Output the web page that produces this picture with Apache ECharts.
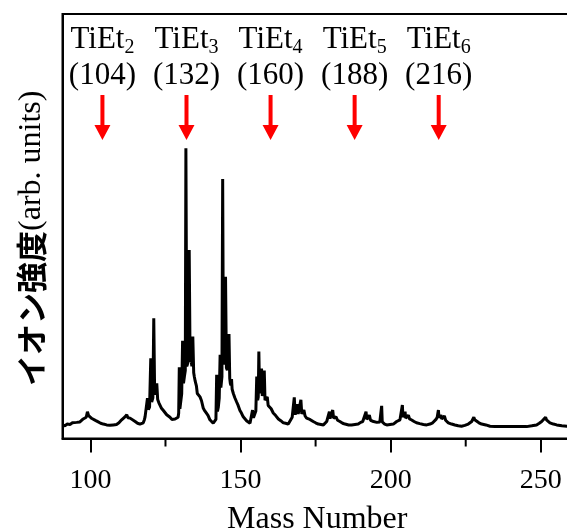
<!DOCTYPE html>
<html>
<head>
<meta charset="utf-8">
<script src="https://cdn.jsdelivr.net/npm/echarts@6/dist/echarts.min.js"></script>
<style>
  html, body { margin: 0; padding: 0; background: #ffffff; }
  #chart { width: 567px; height: 530px; }
</style>
</head>
<body>
<div id="chart"></div>
<script>
// Mass spectrum trace: mass number (x) and ion intensity in arbitrary units (y)
const massNumber = [
  90.7, 91.5, 92.3, 93.2, 94.0, 94.6, 95.4, 96.0, 96.5, 97.1, 97.6, 98.2, 98.6, 99.0, 99.4, 99.9,
  100.5, 101.0, 101.8, 102.6, 103.4, 104.3, 105.4, 106.5, 107.6, 108.7, 109.5, 110.1, 110.4, 110.9,
  111.5, 111.8, 112.1, 112.5, 113.2, 113.8, 114.9, 115.7, 116.5, 117.1, 117.6,
  118.0, 118.2, 118.6, 119.0, 119.3, 119.7, 120.1, 120.4, 120.8, 121.1, 121.4, 121.8, 122.1, 122.4,
  122.8, 123.2, 123.6, 124.3, 124.9, 125.4, 126.0, 126.5, 127.1, 127.6, 128.2, 128.7, 129.2,
  129.4, 129.6, 129.8, 130.1, 130.4, 130.7, 131.0, 131.3, 131.6, 131.8, 132.1, 132.4, 132.7, 132.9,
  133.2, 133.5, 133.8, 134.1, 134.4, 134.6, 134.9, 135.1, 135.3, 135.6, 136.0, 136.5, 137.0, 137.6,
  138.1, 138.7, 139.2, 139.8, 140.3, 140.9, 141.5, 141.8,
  142.05, 142.3, 142.6, 142.9, 143.2, 143.45, 143.8, 144.05, 144.3, 144.6, 144.8, 145.0, 145.3, 145.6,
  145.9, 146.15, 146.4, 146.6, 146.8, 147.0, 147.2, 147.6, 148.1, 148.7, 149.2, 149.8, 150.3, 150.9,
  151.5, 152.0, 152.6, 153.15, 153.6,
  154.0, 154.3, 154.7, 155.1, 155.4, 155.7, 155.9, 156.1, 156.35, 156.6, 156.8, 157.0, 157.25, 157.5,
  157.7, 157.9, 158.15, 158.4, 158.6, 158.9, 159.2, 159.6, 160.2, 160.9, 161.7, 162.6, 163.4, 164.25,
  165.0, 165.9,
  166.5, 167.2, 167.5, 167.9, 168.2, 168.35, 168.9, 169.2, 169.5, 169.8, 170.1, 170.4, 170.6, 171.1,
  171.5, 172.0, 172.6, 173.1, 173.7, 174.2, 175.0, 175.9, 176.8, 177.6, 178.2, 178.7,
  179.1, 179.6, 179.8, 180.0, 180.3, 180.7, 181.0, 181.2, 181.8, 182.3, 183.1, 184.0, 184.8, 186.0,
  187.0, 188.1, 189.2, 190.0, 190.7,
  191.3, 191.8, 192.05, 192.2, 192.6, 192.9, 193.3, 193.7, 194.3, 194.8, 195.4, 195.9, 196.4, 196.8,
  197.0, 197.2, 197.4, 198.0, 198.7, 199.8, 200.9, 201.5, 202.0,
  202.6, 203.1, 203.6, 203.9, 204.1, 204.3, 204.8, 205.0, 205.3, 205.9, 206.3, 207.0, 207.8, 208.6,
  209.7, 210.9, 212.0, 213.1, 214.0, 214.4,
  215.1, 215.5, 215.9, 216.1, 216.3, 216.75, 217.0, 217.3, 217.9, 218.3, 219.2, 220.3, 221.4, 222.5,
  223.6, 224.7, 225.85, 226.5, 227.0, 227.4, 227.7, 228.0, 228.6, 229.4, 230.3, 231.7, 233.1, 234.7,
  236.4, 238.6, 240.8, 243.0, 245.3, 247.0, 248.6, 249.5, 250.3, 250.9, 251.6, 251.9, 252.4, 253.05,
  254.2, 255.3, 257.0, 258.7, 260.4
];
const intensity = [
  3.2, 3.0, 3.4, 3.3, 3.7, 3.5, 3.8, 4.2, 3.9, 4.1, 4.6, 4.5, 5.0, 6.3, 5.4, 5.1,
  4.7, 4.5, 4.2, 3.9, 3.6, 3.4, 3.2, 3.1, 3.2, 3.3, 3.7, 4.0, 4.4, 4.3,
  5.1, 4.7, 5.6, 4.9, 4.8, 4.4, 4.0, 3.6, 3.4, 3.6, 3.7,
  4.5, 5.1, 5.4, 9.5, 6.8, 7.4, 18.9, 8.6, 9.6, 28.3, 10.3, 10.0, 13.0, 9.2,
  8.4, 8.2, 7.2, 6.6, 6.2, 5.6, 5.3, 5.0, 4.5, 4.4, 4.6, 4.4, 5.0,
  6.0, 16.8, 7.0, 7.4, 10.5, 23.0, 13.0, 14.6, 16.0, 68.4, 17.0, 17.7, 19.5, 44.4,
  18.0, 18.5, 17.0, 24.0, 15.5, 14.6, 13.5, 13.6, 12.4, 10.6, 10.2, 9.8, 8.9, 7.1,
  6.5, 5.9, 5.4, 4.4, 4.2, 3.6, 3.7, 4.5,
  15.0, 6.4, 7.4, 9.5, 19.7, 12.0, 14.5, 61.1, 17.5, 17.7, 18.5, 38.1, 16.6, 16.1,
  16.5, 24.6, 14.2, 13.0, 12.5, 14.0, 11.6, 10.6, 9.6, 8.6, 7.8, 6.6, 6.0, 5.1,
  4.8, 4.2, 4.0, 3.6, 3.9,
  6.7, 4.9, 5.2, 6.5, 14.6, 9.0, 9.8, 20.5, 10.6, 10.6, 11.0, 16.5, 10.0, 9.8,
  10.0, 16.0, 9.0, 9.0, 8.6, 9.8, 7.8, 7.9, 7.0, 6.0, 5.4, 4.6, 4.2, 3.7,
  3.6, 3.4,
  3.6, 5.0, 5.4, 9.7, 5.6, 5.9, 8.1, 5.8, 5.5, 5.9, 9.1, 5.8, 5.7, 6.7,
  5.3, 4.8, 4.6, 4.5, 4.2, 4.0, 3.7, 3.4, 3.3, 3.2, 3.6, 4.0,
  4.4, 6.3, 4.7, 4.4, 4.6, 6.7, 4.8, 4.75, 5.1, 4.3, 4.0, 3.6, 3.4, 3.2,
  3.2, 3.3, 3.4, 3.8, 4.0,
  4.4, 6.3, 4.5, 4.4, 4.4, 5.5, 4.3, 4.2, 4.0, 3.97, 3.8, 3.7, 3.9, 4.0,
  7.7, 3.9, 3.7, 3.4, 3.2, 3.3, 3.4, 3.7, 4.0,
  4.3, 4.4, 4.8, 7.9, 5.0, 4.75, 6.3, 4.8, 4.9, 5.5, 4.6, 4.36, 4.0, 3.7,
  3.5, 3.3, 3.2, 3.4, 3.7, 3.97,
  4.5, 5.0, 6.7, 4.9, 4.75, 5.5, 4.6, 4.5, 5.3, 4.3, 3.7, 3.4, 3.18, 3.0,
  2.9, 3.1, 3.4, 3.7, 4.0, 4.3, 5.0, 4.4, 4.0, 3.7, 3.4, 3.2, 2.9, 2.8,
  2.8, 2.8, 2.8, 2.8, 2.8, 3.0, 3.2, 3.6, 4.0, 4.3, 5.0, 4.4, 4.1, 3.7,
  3.4, 3.2, 3.0, 2.9, 2.9
];

// Axis ticks
const majorTicks = [100, 150, 200, 250];
const minorTicks = [125, 175, 225];

// Marked fragment ions and their nominal masses
const fragmentBase = ['TiEt', 'TiEt', 'TiEt', 'TiEt', 'TiEt'];
const fragmentIndex = ['2', '3', '4', '5', '6'];
const fragmentMass = [104, 132, 160, 188, 216];

const SERIF = '"Liberation Serif", "Times New Roman", Times, serif';
const CJK = '"Noto Sans CJK JP", "Noto Sans CJK SC", sans-serif';

const chart = echarts.init(document.getElementById('chart'), null, { renderer: 'canvas' });

const option = {
  animation: false,
  backgroundColor: '#ffffff',
  grid: {
    left: 62.5, top: 14, right: -5, bottom: 91.5,
    containLabel: false,
    outerBoundsMode: 'none',
    show: true, borderColor: '#000000', borderWidth: 2, backgroundColor: 'transparent'
  },
  xAxis: {
    type: 'value',
    min: 90.7,
    max: 260.4,
    name: 'Mass Number',
    nameLocation: 'middle',
    nameGap: 65,
    nameTextStyle: { fontFamily: SERIF, fontSize: 32, color: '#000000' },
    axisLine: { show: true, onZero: false, lineStyle: { color: '#000000', width: 2 } },
    axisTick: {
      show: true, inside: false, length: 14, customValues: majorTicks,
      lineStyle: { color: '#000000', width: 2 }
    },
    axisLabel: {
      customValues: majorTicks, fontFamily: SERIF, fontSize: 28, color: '#000000', margin: 28
    },
    splitLine: { show: false }
  },
  yAxis: {
    type: 'value',
    min: 0,
    max: 100,
    name: '{j|イオン強度}{r|(arb. units)}',
    nameLocation: 'middle',
    nameRotate: 90,
    nameGap: 15,
    nameTextStyle: {
      padding: [0, 24, 0, 0],
      rich: {
        j: { fontFamily: CJK, fontSize: 31, fontWeight: 'bold', color: '#000000' },
        r: { fontFamily: SERIF, fontSize: 32, color: '#000000' }
      }
    },
    axisLine: { show: true, onZero: false, lineStyle: { color: '#000000', width: 2 } },
    axisTick: { show: false },
    axisLabel: { show: false },
    splitLine: { show: false }
  },
  series: [
    {
      type: 'line',
      data: massNumber.map((m, i) => [m, intensity[i]]),
      showSymbol: false,
      symbol: 'none',
      silent: true,
      lineStyle: { color: '#000000', width: 3, join: 'bevel' }
    },
    {
      // short minor ticks below the mass axis
      type: 'custom',
      clip: false,
      silent: true,
      data: minorTicks.map(v => [v]),
      renderItem: (params, api) => {
        const p = api.coord([api.value(0), 0]);
        return {
          type: 'line',
          shape: { x1: p[0], y1: p[1], x2: p[0], y2: p[1] + 8 },
          style: { stroke: '#000000', lineWidth: 2 }
        };
      }
    },
    {
      // fragment labels with downward red arrows
      type: 'custom',
      clip: false,
      silent: true,
      data: fragmentMass.map(v => [v]),
      renderItem: (params, api) => {
        const i = params.dataIndex;
        const x = api.coord([api.value(0), 0])[0];
        return {
          type: 'group',
          children: [
            {
              type: 'text',
              style: {
                x: x, y: 40,
                text: '{m|' + fragmentBase[i] + '}{s|' + fragmentIndex[i] + '}',
                align: 'center', verticalAlign: 'middle',
                rich: {
                  m: { fontFamily: SERIF, fontSize: 31, lineHeight: 36, fill: '#000000' },
                  s: { fontFamily: SERIF, fontSize: 20, lineHeight: 14, verticalAlign: 'bottom', fill: '#000000' }
                }
              }
            },
            {
              type: 'text',
              style: {
                x: x, y: 76,
                text: '(' + fragmentMass[i] + ')',
                align: 'center', verticalAlign: 'middle',
                font: '31px ' + SERIF, fill: '#000000'
              }
            },
            {
              type: 'polygon',
              shape: {
                points: [[x - 2, 95], [x + 2, 95], [x + 2, 125], [x + 8, 125], [x, 140], [x - 8, 125], [x - 2, 125]]
              },
              style: { fill: '#ff0000' }
            }
          ]
        };
      }
    }
  ]
};

chart.setOption(option);
</script>
</body>
</html>
